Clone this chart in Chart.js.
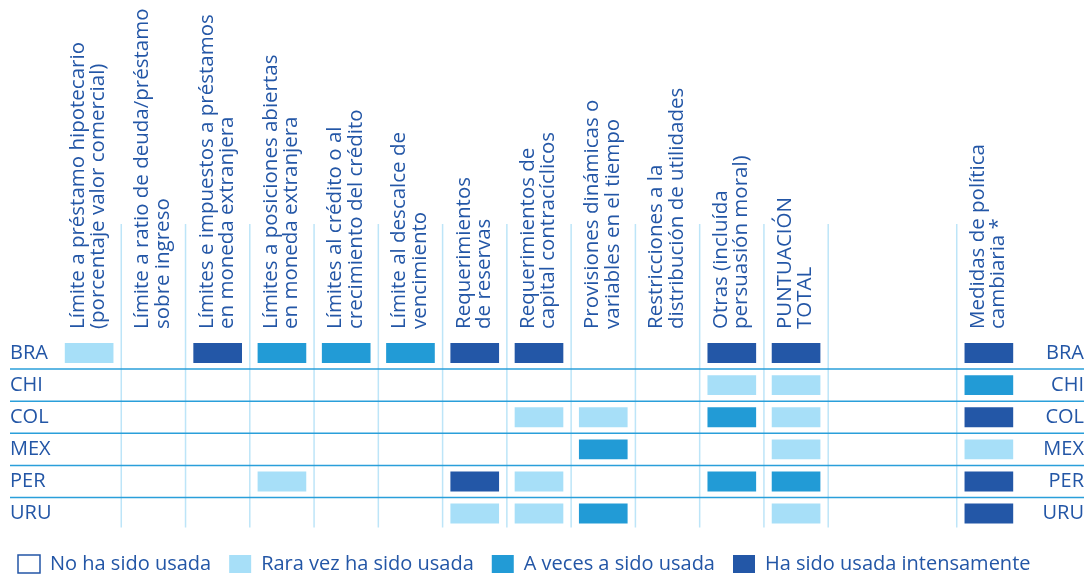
<!DOCTYPE html>
<html lang="es">
<head>
<meta charset="utf-8">
<title>Uso de medidas macroprudenciales</title>
<script src="https://cdn.jsdelivr.net/npm/chart.js@4.4.1/dist/chart.umd.min.js"></script>
<style>
    html, body { margin: 0; padding: 0; background: #fff; }
</style>
</head>
<body>
<canvas id="chart" width="1090" height="578"></canvas>
<script>
// encabezados de columna: 11 medidas + puntuación total
const measures = [
    ['Límite a préstamo hipotecario', '(porcentaje valor comercial)'],
    ['Límite a ratio de deuda/préstamo', 'sobre ingreso'],
    ['Límites e impuestos a préstamos', 'en moneda extranjera'],
    ['Límites a posiciones abiertas', 'en moneda extranjera'],
    ['Límites al crédito o al', 'crecimiento del crédito'],
    ['Límite al descalce de', 'vencimiento'],
    ['Requerimientos', 'de reservas'],
    ['Requerimientos de', 'capital contracíclicos'],
    ['Provisiones dinámicas o', 'variables en el tiempo'],
    ['Restricciones a la', 'distribución de utilidades'],
    ['Otras (incluída', 'persuasión moral)'],
    ['PUNTUACIÓN', 'TOTAL']
];
const fxHeader = ['Medidas de política', 'cambiaria *'];

const countries = ['BRA', 'CHI', 'COL', 'MEX', 'PER', 'URU'];

// 0 = no usada, 1 = rara vez, 2 = a veces, 3 = intensamente
const bra = [1, 0, 3, 2, 2, 2, 3, 3, 0, 0, 3, 3];
const chi = [0, 0, 0, 0, 0, 0, 0, 0, 0, 0, 1, 1];
const col = [0, 0, 0, 0, 0, 0, 0, 1, 1, 0, 2, 1];
const mex = [0, 0, 0, 0, 0, 0, 0, 0, 2, 0, 0, 1];
const per = [0, 0, 0, 1, 0, 0, 3, 1, 0, 0, 2, 2];
const uru = [0, 0, 0, 0, 0, 0, 1, 1, 2, 0, 0, 1];
// medidas de política cambiaria, por país
const fxPolicy = [3, 2, 3, 1, 3, 3];

const levelLabels = ['No ha sido usada', 'Rara vez ha sido usada', 'A veces a sido usada', 'Ha sido usada intensamente'];

const textColor = '#2356a6';
const levelColors = ['#ffffff', '#a7dff8', '#229bd6', '#2357a7'];
const colLineColor = '#bde5f8';
const rowLineColor = '#2a9fda';
const BOX_HALF = 0.3;

// dos columnas vacías separan la puntuación de la política cambiaria
const headers = [...measures, [''], [''], fxHeader];
const keys = headers.map((h, i) => 'c' + i);
const isSpacer = i => headers[i][0] === '';
const rows = [bra, chi, col, mex, per, uru].map((r, i) => [...r, 0, 0, fxPolicy[i]]);

function cellsFor(level) {
    const out = [];
    rows.forEach((row, i) => {
        row.forEach((v, j) => {
            if (v === level) out.push({ x: keys[j], y: [i + 0.5 - BOX_HALF, i + 0.5 + BOX_HALF] });
        });
    });
    return out;
}

const datasets = levelLabels.map((label, level) => ({
    label,
    data: level === 0 ? [] : cellsFor(level),
    backgroundColor: levelColors[level],
    borderColor: level === 0 ? textColor : levelColors[level],
    borderWidth: level === 0 ? 1.5 : 0,
    borderSkipped: false
}));

const rowTicks = scale => {
    scale.ticks = countries.map((c, i) => ({ value: i + 0.5 }));
};

const cellGrid = {
    id: 'cellGrid',
    afterLayout(chart) {
        // etiquetas de fila a 10px del borde
        chart.scales.y.left = 10;
    },
    beforeDatasetsDraw(chart) {
        const { ctx, chartArea, scales: { x, y, y2 } } = chart;
        ctx.save();
        ctx.lineWidth = 1.5;
        ctx.strokeStyle = colLineColor;
        const bottom = y.getPixelForValue(countries.length) - 2;
        for (let i = 1; i < keys.length; i++) {
            if (isSpacer(i - 1) && isSpacer(i)) continue;
            const px = (x.getPixelForTick(i - 1) + x.getPixelForTick(i)) / 2;
            ctx.beginPath();
            ctx.moveTo(px, chartArea.top - 113);
            ctx.lineTo(px, bottom);
            ctx.stroke();
        }
        ctx.strokeStyle = rowLineColor;
        for (let i = 1; i < countries.length; i++) {
            const py = y.getPixelForValue(i);
            ctx.beginPath();
            ctx.moveTo(y.left, py);
            ctx.lineTo(y2.right, py);
            ctx.stroke();
        }
        ctx.restore();
    }
};

Chart.defaults.font.family = "'Open Sans', sans-serif";
Chart.defaults.font.size = 20;
Chart.defaults.color = textColor;

new Chart(document.getElementById('chart'), {
    type: 'bar',
    data: { labels: keys, datasets },
    plugins: [cellGrid],
    options: {
        responsive: false,
        animation: false,
        devicePixelRatio: 1,
        layout: { padding: { left: 0, right: 6, top: 0, bottom: -6 } },
        datasets: {
            bar: { barThickness: 48, grouped: false }
        },
        plugins: {
            tooltip: { enabled: false },
            legend: {
                position: 'bottom',
                align: 'start',
                labels: {
                    boxWidth: 22,
                    boxHeight: 18,
                    padding: 18,
                    color: textColor,
                    font: { size: 20 }
                }
            }
        },
        scales: {
            x: {
                type: 'category',
                position: 'top',
                grid: { display: false },
                border: { display: false },
                afterFit: s => { s.height = 337; },
                ticks: {
                    autoSkip: false,
                    minRotation: 90,
                    maxRotation: 90,
                    padding: 0,
                    labelOffset: 30,
                    color: textColor,
                    font: { size: 20.5, lineHeight: 1.0 },
                    callback: (v, i) => headers[i]
                }
            },
            y: {
                type: 'linear',
                position: 'left',
                reverse: true,
                min: 0,
                max: 6.2,
                grid: { display: false },
                border: { display: false },
                afterBuildTicks: rowTicks,
                afterFit: s => { s.width = 57; },
                ticks: {
                    crossAlign: 'far',
                    color: textColor,
                    font: { size: 20 },
                    callback: v => countries[Math.floor(v)]
                }
            },
            y2: {
                type: 'linear',
                position: 'right',
                reverse: true,
                min: 0,
                max: 6.2,
                grid: { display: false },
                border: { display: false },
                afterBuildTicks: rowTicks,
                afterFit: s => { s.width = 63; },
                ticks: {
                    crossAlign: 'far',
                    color: textColor,
                    font: { size: 20 },
                    callback: v => countries[Math.floor(v)]
                }
            }
        }
    }
});
</script>
</body>
</html>
